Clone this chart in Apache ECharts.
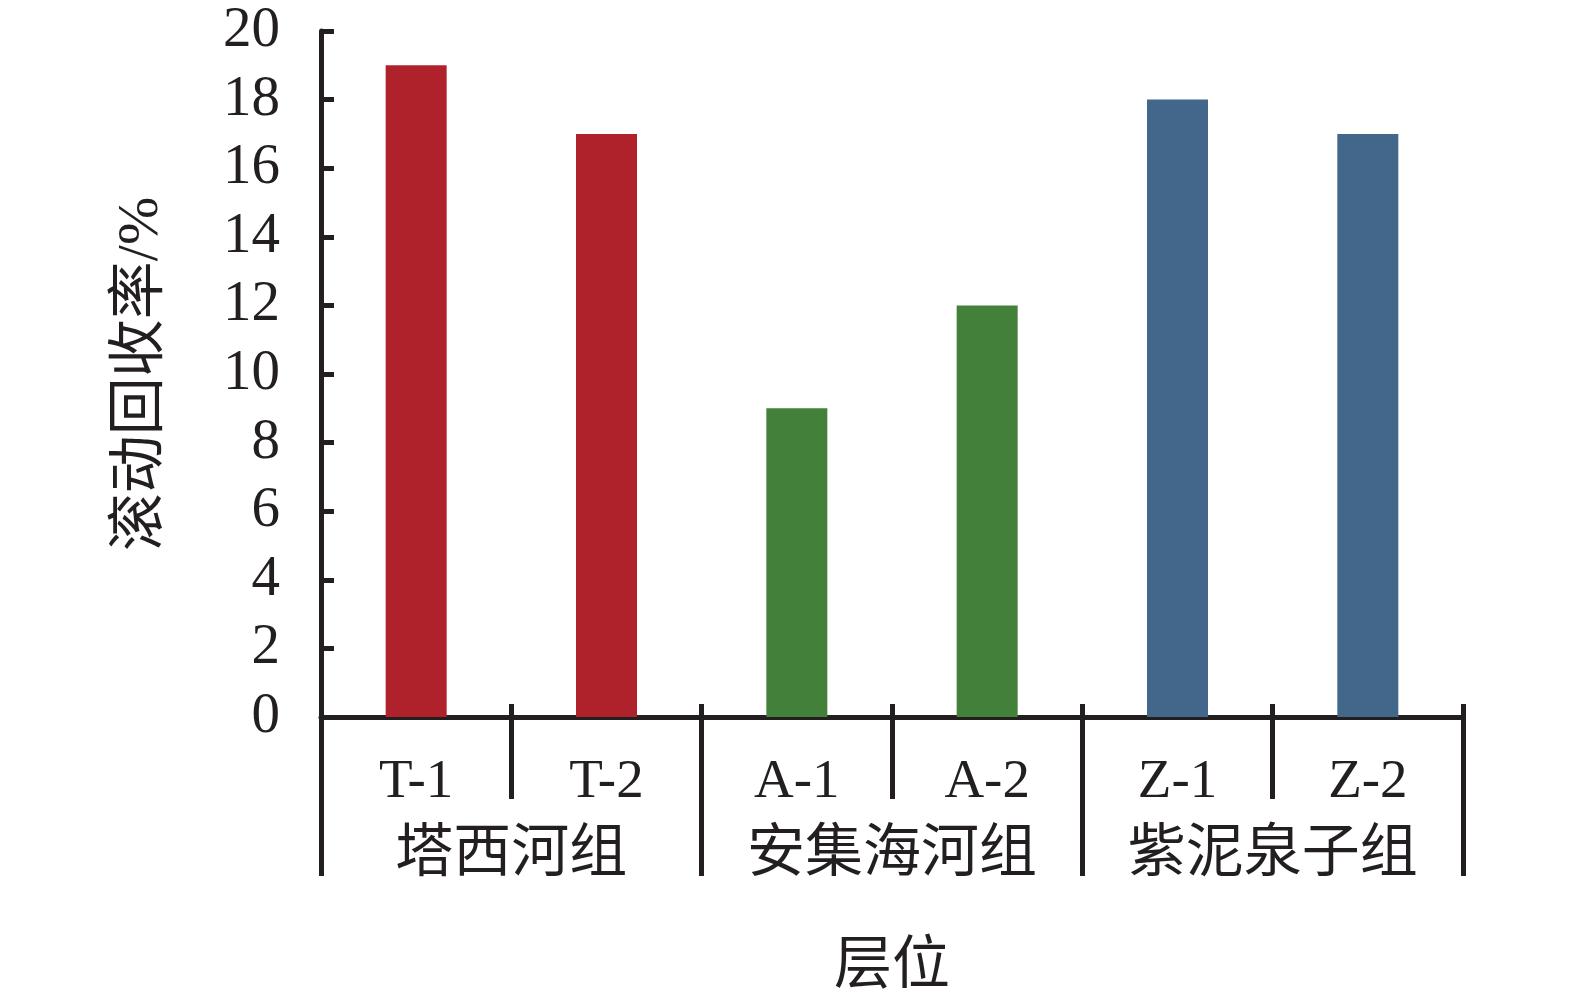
<!DOCTYPE html>
<html>
<head>
<meta charset="utf-8">
<script src="https://cdn.jsdelivr.net/npm/echarts@6/dist/echarts.min.js"></script>
<style>
html,body{margin:0;padding:0;background:#fff;}
#c{width:1575px;height:1002px;}
</style>
</head>
<body>
<div id="c"></div>
<script>
const categories = ['T-1', 'T-2', 'A-1', 'A-2', 'Z-1', 'Z-2'];
const values = [19, 17, 9, 12, 18, 17];
const groups = ['塔西河组', '安集海河组', '紫泥泉子组'];
const groupOfCategory = [0, 0, 1, 1, 2, 2];
const yTicks = [0, 2, 4, 6, 8, 10, 12, 14, 16, 18, 20];

const groupColors = ['#B0222B', '#43813A', '#42678B'];
const ink = '#231F20';
const font = "'Liberation Serif', 'Noto Sans CJK SC', serif";

const chart = echarts.init(document.getElementById('c'));
chart.setOption({
  backgroundColor: '#fff',
  animation: false,
  grid: { left: 321, right: 112, top: 31, bottom: 283, containLabel: false },
  xAxis: [
    {
      type: 'category', data: categories, position: 'bottom',
      axisLine: { show: true, lineStyle: { color: ink, width: 5 } },
      axisTick: { show: true, length: 82, lineStyle: { color: ink, width: 5 } },
      axisLabel: { color: ink, fontFamily: font, fontSize: 55, margin: 38, lineHeight: 56 },
      name: '层位', nameLocation: 'middle', nameGap: 222,
      nameTextStyle: { color: ink, fontFamily: font, fontSize: 58, lineHeight: 58 }
    },
    {
      type: 'category', data: groups, position: 'bottom', gridIndex: 0,
      axisLine: { show: false },
      axisTick: { show: true, length: 159, lineStyle: { color: ink, width: 5 } },
      axisLabel: { color: ink, fontFamily: font, fontSize: 58, margin: 110, lineHeight: 58 }
    },
    {
      type: 'category', data: categories, position: 'bottom', gridIndex: 0,
      axisLine: { show: false },
      axisTick: { show: true, inside: true, length: 13, lineStyle: { color: ink, width: 5 } },
      axisLabel: { show: false }
    }
  ],
  yAxis: {
    type: 'value', min: yTicks[0], max: yTicks[yTicks.length - 1], interval: 2,
    axisLine: { show: true, lineStyle: { color: ink, width: 5 } },
    axisTick: { show: true, inside: true, length: 13, lineStyle: { color: ink, width: 5 } },
    splitLine: { show: false },
    axisLabel: { color: ink, fontFamily: font, fontSize: 57, margin: 41 },
    name: '滚动回收率/%', nameLocation: 'middle', nameGap: 150, nameRotate: 90,
    nameTextStyle: { color: ink, fontFamily: font, fontSize: 58 }
  },
  series: [{
    type: 'bar', xAxisIndex: 0, barWidth: 61,
    data: values.map((v, i) => ({ value: v, itemStyle: { color: groupColors[groupOfCategory[i]] } }))
  }]
});
</script>
</body>
</html>
